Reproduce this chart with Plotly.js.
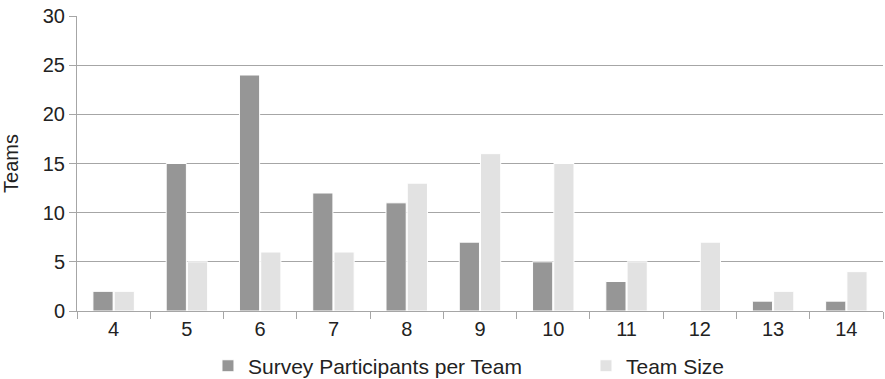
<!DOCTYPE html>
<html>
<head>
<meta charset="utf-8">
<script src="https://cdn.plot.ly/plotly-3.0.1.min.js"></script>
<style>
  html, body { margin: 0; padding: 0; background: #ffffff; }
  #chart { width: 885px; height: 379px; }
</style>
</head>
<body>
<div id="chart"></div>
<script>
// Team size categories (people per team)
const teamSizes = ['4', '5', '6', '7', '8', '9', '10', '11', '12', '13', '14'];
// Number of teams by how many members answered the survey
const surveyParticipants = [2, 15, 24, 12, 11, 7, 5, 3, 0, 1, 1];
// Number of teams by actual team size
const teamSizeCounts = [2, 5, 6, 6, 13, 16, 15, 5, 7, 2, 4];
const yTicks = [0, 5, 10, 15, 20, 25, 30];

const font = { family: 'Liberation Sans, Arial, sans-serif', size: 20, color: '#222222' };
const legendFont = { family: 'Liberation Sans, Arial, sans-serif', size: 21, color: '#222222' };

const traces = [
  {
    type: 'bar',
    name: 'Survey Participants per Team',
    x: teamSizes,
    y: surveyParticipants,
    legend: 'legend',
    marker: { color: '#969696', line: { color: '#ffffff', width: 1 } }
  },
  {
    type: 'bar',
    name: 'Team Size',
    x: teamSizes,
    y: teamSizeCounts,
    legend: 'legend2',
    marker: { color: '#e2e2e2', line: { color: '#ffffff', width: 1 } }
  }
];

const legendBase = {
  orientation: 'h',
  xanchor: 'left',
  yref: 'container',
  y: 0.034,
  yanchor: 'middle',
  font: legendFont,
  itemwidth: 30
};

const layout = {
  width: 885,
  height: 379,
  margin: { l: 77, r: 2, t: 16, b: 68 },
  paper_bgcolor: '#ffffff',
  plot_bgcolor: '#ffffff',
  font: font,
  barmode: 'group',
  bargap: 0.42,
  bargroupgap: 0.05,
  showlegend: true,
  legend: Object.assign({}, legendBase, { x: 0.1625 }),
  legend2: Object.assign({}, legendBase, { x: 0.6315 }),
  xaxis: {
    type: 'category',
    tickson: 'boundaries',
    ticks: 'outside',
    ticklen: 7,
    tickcolor: '#a6a6a6',
    showline: true,
    linecolor: '#a6a6a6',
    linewidth: 1,
    showgrid: false,
    tickfont: font,
    fixedrange: true
  },
  yaxis: {
    range: [0, 30],
    tickvals: yTicks,
    ticktext: yTicks.map(String),
    ticks: 'outside',
    ticklen: 7,
    tickcolor: '#a6a6a6',
    showline: true,
    linecolor: '#a6a6a6',
    linewidth: 1,
    showgrid: true,
    gridcolor: '#a6a6a6',
    gridwidth: 1,
    zeroline: false,
    tickfont: font,
    title: { text: 'Teams', font: font, standoff: 18 },
    fixedrange: true
  }
};

Plotly.newPlot('chart', traces, layout, { displayModeBar: false, staticPlot: true });
</script>
</body>
</html>
